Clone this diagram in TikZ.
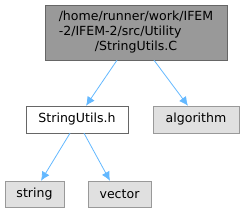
\documentclass[tikz,border=0pt]{standalone}
\usepackage{fontspec}
\setmainfont{DejaVu Sans}
\usepackage{xcolor}
\usetikzlibrary{arrows.meta,positioning}
\definecolor{edgeblue}{HTML}{63B8FF}
\definecolor{filegray}{HTML}{999999}
\definecolor{sysgray}{HTML}{E0E0E0}

\begin{document}
\begin{tikzpicture}[x=1bp,y=-1bp,font=\fontsize{12.6}{15}\selectfont,
   f/.style={draw=black!60,inner sep=0pt,align=center},
   sys/.style={f,draw=filegray,fill=sysgray},
   dep/.style={-{Latex[length=9bp,width=8.5bp]},draw=edgeblue,line width=0.8bp}]
  \useasboundingbox (0,0) rectangle (244,212);
  \node[f,fill=filegray,minimum width=182bp,minimum height=55bp] (src) at (136,32.5)
    {\begin{tabular}{@{}l@{}}/home/runner/work/IFEM\\-2/IFEM-2/src/Utility\\
     \multicolumn{1}{@{}c@{}}{/StringUtils.C}\end{tabular}};
  \node[f,fill=white,minimum width=102bp,minimum height=27bp] (hdr) at (77,119.5) {StringUtils.h};
  \node[sys,minimum width=86bp,minimum height=27bp] (algo) at (196,119.5) {algorithm};
  \node[sys,minimum width=59bp,minimum height=26bp] (str) at (34.5,194) {string};
  \node[sys,minimum width=63bp,minimum height=26bp] (vec) at (119.5,194) {vector};
  \draw[dep] ([xshift=-19bp]src.south) -- ([xshift=9bp]hdr.north);
  \draw[dep] ([xshift=18bp]src.south) -- ([xshift=-8bp]algo.north);
  \draw[dep] ([xshift=-7bp]hdr.south) -- ([xshift=6.5bp]str.north);
  \draw[dep] ([xshift=7bp]hdr.south) -- ([xshift=-9.5bp]vec.north);
\end{tikzpicture}
\end{document}
